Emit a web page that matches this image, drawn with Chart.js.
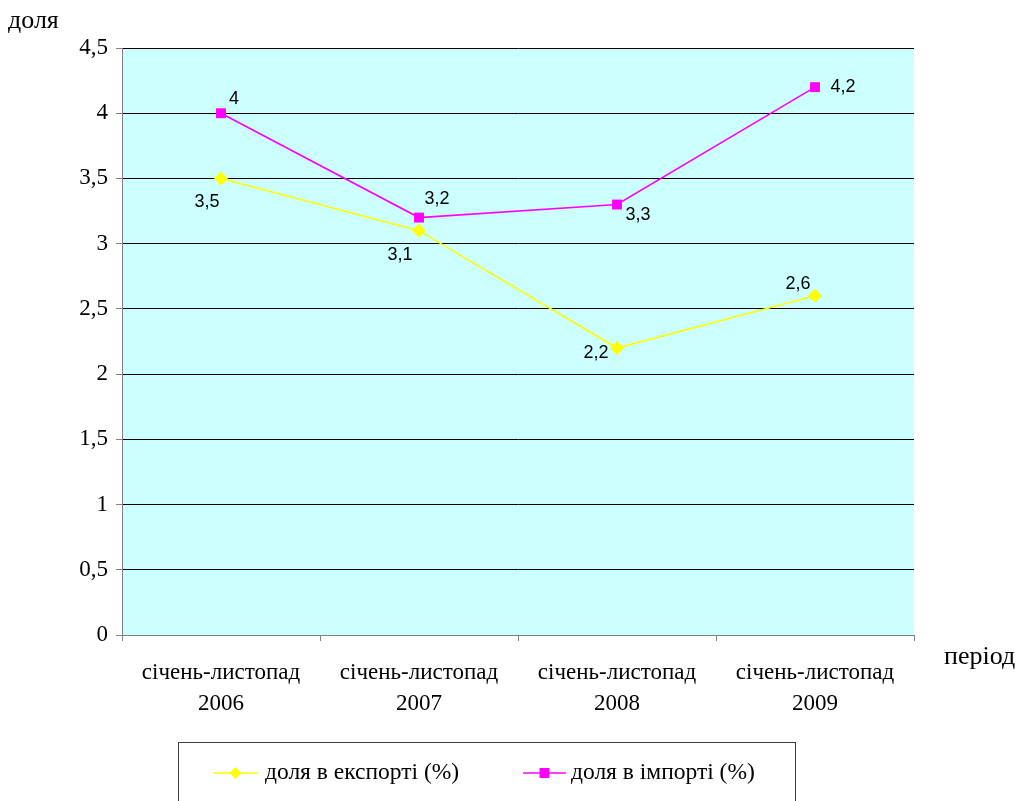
<!DOCTYPE html>
<html>
<head>
<meta charset="utf-8">
<script src="https://cdn.jsdelivr.net/npm/chart.js@4/dist/chart.umd.min.js"></script>
<style>
  html, body { margin: 0; padding: 0; background: #ffffff; }
  #wrap { width: 1020px; height: 801px; position: relative; }
</style>
</head>
<body>
<div id="wrap"><canvas id="c" width="1020" height="801"></canvas></div>
<script>
// Periods on the horizontal axis (two-line labels)
const periods = [
  ['січень-листопад', '2006'],
  ['січень-листопад', '2007'],
  ['січень-листопад', '2008'],
  ['січень-листопад', '2009']
];
// Share in exports / imports, %
const exportShare = [3.5, 3.1, 2.2, 2.6];
const importShare = [4.0, 3.2, 3.3, 4.2];
// Value axis ticks
const yTicks = [0, 0.5, 1, 1.5, 2, 2.5, 3, 3.5, 4, 4.5];
const seriesNames = ['доля в експорті (%)', 'доля в імпорті (%)'];
const yTitle = 'доля';
const xTitle = 'період';

// Where each value label sits relative to its point (dx, dy in px)
const exportLabelShift = [[-14, 24], [-19, 24], [-21, 5], [-17, -12]];
const importLabelShift = [[13, -14], [18, -19], [21, 10], [28, 0]];

const EXPORT_COLOR = '#FFFF00';
const IMPORT_COLOR = '#FF00FF';
const SERIF = '"Liberation Serif", "Times New Roman", serif';
const SANS = '"Liberation Sans", Arial, sans-serif';

const fmt = v => String(v).replace('.', ',');

const decorPlugin = {
  id: 'decor',
  beforeDraw(chart) {
    const { ctx, chartArea: a } = chart;
    ctx.save();
    ctx.fillStyle = '#CCFFFF';
    ctx.fillRect(a.left, a.top, a.right - a.left, a.bottom - a.top);
    ctx.restore();
  },
  afterDatasetsDraw(chart) {
    const { ctx } = chart;
    const shifts = [exportLabelShift, importLabelShift];
    ctx.save();
    ctx.font = '18px ' + SANS;
    ctx.fillStyle = '#000';
    ctx.textAlign = 'center';
    ctx.textBaseline = 'middle';
    chart.data.datasets.forEach((ds, di) => {
      const meta = chart.getDatasetMeta(di);
      meta.data.forEach((pt, i) => {
        const [dx, dy] = shifts[di][i];
        ctx.fillText(fmt(ds.data[i]), pt.x + dx, pt.y + dy);
      });
    });
    ctx.restore();
  },
  afterDraw(chart) {
    const { ctx } = chart;
    ctx.save();
    // axis titles
    ctx.fillStyle = '#000';
    ctx.font = '26px ' + SERIF;
    ctx.textBaseline = 'middle';
    ctx.textAlign = 'left';
    ctx.fillText(yTitle, 8, 21);
    ctx.fillText(xTitle, 944, 657);

    // legend box
    ctx.strokeStyle = '#404040';
    ctx.lineWidth = 1;
    ctx.strokeRect(178.5, 742.5, 617, 80);

    const items = [
      { name: seriesNames[0], color: EXPORT_COLOR, style: 'diamond', x0: 213, x1: 258, tx: 265 },
      { name: seriesNames[1], color: IMPORT_COLOR, style: 'square', x0: 523, x1: 566, tx: 571 }
    ];
    const ly = 773;
    items.forEach(it => {
      ctx.strokeStyle = it.color;
      ctx.lineWidth = 1.5;
      ctx.beginPath();
      ctx.moveTo(it.x0, ly);
      ctx.lineTo(it.x1, ly);
      ctx.stroke();
      const cx = (it.x0 + it.x1) / 2;
      ctx.fillStyle = it.color;
      ctx.beginPath();
      if (it.style === 'diamond') {
        ctx.moveTo(cx, ly - 6); ctx.lineTo(cx + 6, ly); ctx.lineTo(cx, ly + 6); ctx.lineTo(cx - 6, ly);
        ctx.closePath();
      } else {
        ctx.rect(cx - 5, ly - 5, 10, 10);
      }
      ctx.fill();
      ctx.fillStyle = '#000';
      ctx.font = '23.5px ' + SERIF;
      ctx.textAlign = 'left';
      ctx.textBaseline = 'middle';
      ctx.fillText(it.name, it.tx, ly);
    });
    ctx.restore();
  }
};

new Chart(document.getElementById('c'), {
  type: 'line',
  data: {
    labels: periods,
    datasets: [
      {
        label: seriesNames[0],
        data: exportShare,
        borderColor: EXPORT_COLOR,
        backgroundColor: EXPORT_COLOR,
        borderWidth: 1.6,
        pointStyle: 'rectRot',
        pointRadius: 7,
        pointBorderWidth: 0,
        tension: 0
      },
      {
        label: seriesNames[1],
        data: importShare,
        borderColor: IMPORT_COLOR,
        backgroundColor: IMPORT_COLOR,
        borderWidth: 1.6,
        pointStyle: 'rect',
        pointRadius: 7,
        pointBorderWidth: 0,
        tension: 0
      }
    ]
  },
  options: {
    responsive: false,
    animation: false,
    devicePixelRatio: 1,
    layout: { padding: { top: 48, right: 106, left: 0, bottom: 0 } },
    plugins: {
      legend: { display: false },
      tooltip: { enabled: false }
    },
    scales: {
      x: {
        type: 'category',
        offset: true,
        grid: {
          offset: true,
          drawOnChartArea: false,
          drawTicks: true,
          tickLength: 6,
          tickColor: '#808080'
        },
        border: { color: '#808080', width: 1 },
        ticks: {
          color: '#000',
          font: { family: SERIF, size: 23, lineHeight: 1.35 },
          padding: 16,
          maxRotation: 0,
          autoSkip: false
        },
        afterFit(scale) { scale.height = 166; }
      },
      y: {
        min: 0,
        max: 4.5,
        afterBuildTicks(scale) { scale.ticks = yTicks.map(v => ({ value: v })); },
        grid: {
          color: '#000',
          lineWidth: 1,
          tickLength: 6,
          tickColor: '#808080'
        },
        border: { color: '#808080', width: 1 },
        ticks: {
          color: '#000',
          font: { family: SERIF, size: 23 },
          padding: 8,
          callback: v => fmt(v)
        },
        afterFit(scale) { scale.width = 122; }
      }
    }
  },
  plugins: [decorPlugin]
});
</script>
</body>
</html>
